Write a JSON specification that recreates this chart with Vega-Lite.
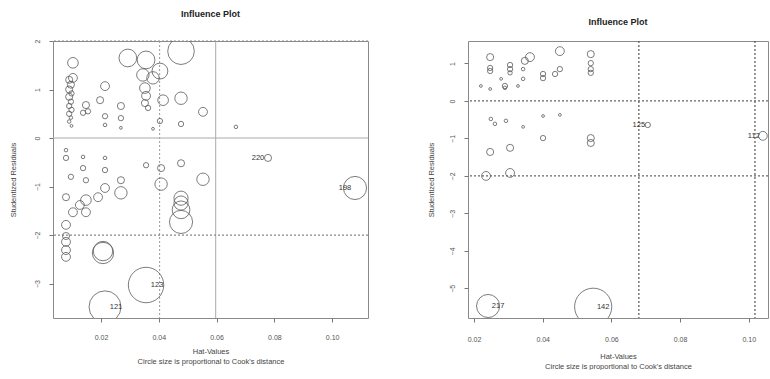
{
  "$schema": "https://vega.github.io/schema/vega-lite/v6.json",
  "padding": {"left": 8, "top": 9, "right": 0, "bottom": 0},
  "background": "white",
  "spacing": 56,
  "config": {
    "font": "Liberation Sans",
    "view": {"stroke": "#8a8a8a", "strokeWidth": 1},
    "title": {"fontSize": 9, "fontWeight": "bold", "color": "#222", "font": "Liberation Sans"},
    "axis": {
      "grid": false, "domain": false, "tickColor": "#777", "tickSize": 4,
      "labelFontSize": 7, "labelColor": "#555", "titleFontSize": 7.5, "titleColor": "#444",
      "titleFontWeight": "normal"
    }
  },
  "datasets": {
    "leftPts": [
      {"hat": 0.0477, "resid": 1.79, "cook": 0.045},
      {"hat": 0.0293, "resid": 1.65, "cook": 0.020},
      {"hat": 0.0356, "resid": 1.61, "cook": 0.020},
      {"hat": 0.0404, "resid": 1.38, "cook": 0.016},
      {"hat": 0.0345, "resid": 1.30, "cook": 0.0098},
      {"hat": 0.0380, "resid": 1.24, "cook": 0.0098},
      {"hat": 0.0352, "resid": 1.03, "cook": 0.0072},
      {"hat": 0.0356, "resid": 0.87, "cook": 0.005},
      {"hat": 0.0352, "resid": 0.72, "cook": 0.0032},
      {"hat": 0.0363, "resid": 0.62, "cook": 0.0018},
      {"hat": 0.0415, "resid": 0.78, "cook": 0.0072},
      {"hat": 0.0477, "resid": 0.82, "cook": 0.0098},
      {"hat": 0.0553, "resid": 0.54, "cook": 0.005},
      {"hat": 0.0477, "resid": 0.29, "cook": 0.0018},
      {"hat": 0.0404, "resid": 0.35, "cook": 0.0018},
      {"hat": 0.0380, "resid": 0.19, "cook": 0.0005},
      {"hat": 0.0103, "resid": 1.55, "cook": 0.0072},
      {"hat": 0.0103, "resid": 1.24, "cook": 0.005},
      {"hat": 0.0090, "resid": 1.20, "cook": 0.0032},
      {"hat": 0.0096, "resid": 1.10, "cook": 0.0032},
      {"hat": 0.0090, "resid": 1.00, "cook": 0.0032},
      {"hat": 0.0098, "resid": 0.92, "cook": 0.0018},
      {"hat": 0.0090, "resid": 0.85, "cook": 0.0032},
      {"hat": 0.0096, "resid": 0.75, "cook": 0.0018},
      {"hat": 0.0090, "resid": 0.66, "cook": 0.0018},
      {"hat": 0.0098, "resid": 0.58, "cook": 0.0018},
      {"hat": 0.0090, "resid": 0.50, "cook": 0.0018},
      {"hat": 0.0096, "resid": 0.42, "cook": 0.0008},
      {"hat": 0.0090, "resid": 0.34, "cook": 0.0008},
      {"hat": 0.0098, "resid": 0.25, "cook": 0.0005},
      {"hat": 0.0214, "resid": 1.07, "cook": 0.005},
      {"hat": 0.0197, "resid": 0.78, "cook": 0.0032},
      {"hat": 0.0148, "resid": 0.68, "cook": 0.0032},
      {"hat": 0.0138, "resid": 0.52, "cook": 0.0018},
      {"hat": 0.0269, "resid": 0.66, "cook": 0.0032},
      {"hat": 0.0269, "resid": 0.41, "cook": 0.0018},
      {"hat": 0.0214, "resid": 0.45, "cook": 0.0018},
      {"hat": 0.0214, "resid": 0.27, "cook": 0.0008},
      {"hat": 0.0269, "resid": 0.21, "cook": 0.0005},
      {"hat": 0.0155, "resid": 0.55, "cook": 0.0018},
      {"hat": 0.0667, "resid": 0.23, "cook": 0.0008},
      {"hat": 0.0079, "resid": -0.25, "cook": 0.0008},
      {"hat": 0.0079, "resid": -0.41, "cook": 0.0018},
      {"hat": 0.0138, "resid": -0.39, "cook": 0.0008},
      {"hat": 0.0214, "resid": -0.41, "cook": 0.0008},
      {"hat": 0.0214, "resid": -0.66, "cook": 0.0018},
      {"hat": 0.0138, "resid": -0.62, "cook": 0.0018},
      {"hat": 0.0096, "resid": -0.80, "cook": 0.0018},
      {"hat": 0.0148, "resid": -0.87, "cook": 0.0018},
      {"hat": 0.0269, "resid": -0.87, "cook": 0.0032},
      {"hat": 0.0269, "resid": -1.13, "cook": 0.0098},
      {"hat": 0.0214, "resid": -1.03, "cook": 0.005},
      {"hat": 0.0190, "resid": -1.22, "cook": 0.005},
      {"hat": 0.0148, "resid": -1.28, "cook": 0.0072},
      {"hat": 0.0127, "resid": -1.38, "cook": 0.005},
      {"hat": 0.0148, "resid": -1.53, "cook": 0.005},
      {"hat": 0.0103, "resid": -1.53, "cook": 0.005},
      {"hat": 0.0079, "resid": -1.22, "cook": 0.0032},
      {"hat": 0.0079, "resid": -1.79, "cook": 0.005},
      {"hat": 0.0356, "resid": -0.56, "cook": 0.0018},
      {"hat": 0.0408, "resid": -0.62, "cook": 0.0032},
      {"hat": 0.0477, "resid": -0.52, "cook": 0.0032},
      {"hat": 0.0408, "resid": -0.95, "cook": 0.0098},
      {"hat": 0.0553, "resid": -0.85, "cook": 0.0098},
      {"hat": 0.0477, "resid": -1.24, "cook": 0.0128},
      {"hat": 0.0477, "resid": -1.34, "cook": 0.0128},
      {"hat": 0.0477, "resid": -1.48, "cook": 0.020},
      {"hat": 0.0477, "resid": -1.73, "cook": 0.034},
      {"hat": 0.0778, "resid": -0.41, "cook": 0.0032, "id": "220"},
      {"hat": 0.1079, "resid": -1.03, "cook": 0.034, "id": "198"},
      {"hat": 0.0079, "resid": -2.02, "cook": 0.0032},
      {"hat": 0.0079, "resid": -2.14, "cook": 0.005},
      {"hat": 0.0079, "resid": -2.31, "cook": 0.005},
      {"hat": 0.0079, "resid": -2.45, "cook": 0.005},
      {"hat": 0.0207, "resid": -2.37, "cook": 0.029},
      {"hat": 0.0207, "resid": -2.33, "cook": 0.024},
      {"hat": 0.0356, "resid": -3.03, "cook": 0.080, "id": "123"},
      {"hat": 0.0214, "resid": -3.48, "cook": 0.065, "id": "121"}
    ],
    "rightPts": [
      {"hat": 0.0247, "resid": 1.17, "cook": 0.0032},
      {"hat": 0.0247, "resid": 0.88, "cook": 0.0018},
      {"hat": 0.0247, "resid": 0.80, "cook": 0.0018},
      {"hat": 0.0305, "resid": 0.96, "cook": 0.0018},
      {"hat": 0.0305, "resid": 0.85, "cook": 0.0018},
      {"hat": 0.0305, "resid": 0.75, "cook": 0.0012},
      {"hat": 0.0363, "resid": 1.17, "cook": 0.005},
      {"hat": 0.0348, "resid": 1.07, "cook": 0.0032},
      {"hat": 0.0343, "resid": 0.85, "cook": 0.0008},
      {"hat": 0.0343, "resid": 0.59, "cook": 0.0008},
      {"hat": 0.0450, "resid": 1.33, "cook": 0.005},
      {"hat": 0.0450, "resid": 0.85, "cook": 0.0018},
      {"hat": 0.0436, "resid": 0.72, "cook": 0.0018},
      {"hat": 0.0401, "resid": 0.72, "cook": 0.0018},
      {"hat": 0.0401, "resid": 0.61, "cook": 0.0018},
      {"hat": 0.0540, "resid": 1.25, "cook": 0.0032},
      {"hat": 0.0540, "resid": 1.01, "cook": 0.0018},
      {"hat": 0.0540, "resid": 0.85, "cook": 0.0018},
      {"hat": 0.0540, "resid": 0.75, "cook": 0.0018},
      {"hat": 0.0290, "resid": 0.40, "cook": 0.0018},
      {"hat": 0.0290, "resid": 0.35, "cook": 0.0008},
      {"hat": 0.0220, "resid": 0.40, "cook": 0.0005},
      {"hat": 0.0247, "resid": 0.32, "cook": 0.0005},
      {"hat": 0.0328, "resid": 0.40, "cook": 0.0005},
      {"hat": 0.0279, "resid": 0.59, "cook": 0.0005},
      {"hat": 0.0249, "resid": -0.48, "cook": 0.0008},
      {"hat": 0.0261, "resid": -0.61, "cook": 0.0008},
      {"hat": 0.0293, "resid": -0.53, "cook": 0.0008},
      {"hat": 0.0343, "resid": -0.69, "cook": 0.0005},
      {"hat": 0.0401, "resid": -0.40, "cook": 0.0005},
      {"hat": 0.0450, "resid": -0.37, "cook": 0.0005},
      {"hat": 0.0401, "resid": -0.99, "cook": 0.0018},
      {"hat": 0.0540, "resid": -0.99, "cook": 0.0032},
      {"hat": 0.0540, "resid": -1.12, "cook": 0.0032},
      {"hat": 0.0247, "resid": -1.36, "cook": 0.0032},
      {"hat": 0.0305, "resid": -1.25, "cook": 0.0032},
      {"hat": 0.0235, "resid": -2.00, "cook": 0.005},
      {"hat": 0.0305, "resid": -1.92, "cook": 0.005},
      {"hat": 0.0706, "resid": -0.64, "cook": 0.0018, "id": "125"},
      {"hat": 0.1041, "resid": -0.93, "cook": 0.005, "id": "112"},
      {"hat": 0.0241, "resid": -5.47, "cook": 0.034, "id": "217"},
      {"hat": 0.0547, "resid": -5.49, "cook": 0.088, "id": "142"}
    ]
  },
  "hconcat": [
    {
      "width": 315,
      "height": 277,
      "title": {"text": "Influence Plot", "offset": 20},
      "layer": [
        {
          "data": {"values": [{"hat": 0.0403}]},
          "mark": {"type": "rule", "color": "#9a9a9a", "strokeDash": [2, 2], "strokeWidth": 1},
          "encoding": {"x": {"field": "hat", "type": "quantitative"}}
        },
        {
          "data": {"values": [{"hat": 0.0597}]},
          "mark": {"type": "rule", "color": "#aaaaaa", "strokeWidth": 1},
          "encoding": {"x": {"field": "hat", "type": "quantitative"}}
        },
        {
          "data": {"values": [{"resid": 0}]},
          "mark": {"type": "rule", "color": "#aaaaaa", "strokeWidth": 1},
          "encoding": {"y": {"field": "resid", "type": "quantitative"}}
        },
        {
          "data": {"values": [{"resid": -2}, {"resid": 2}]},
          "mark": {"type": "rule", "color": "#888888", "strokeDash": [2, 2], "strokeWidth": 1.2},
          "encoding": {"y": {"field": "resid", "type": "quantitative"}}
        },
        {
          "data": {"name": "leftPts"},
          "mark": {"type": "point", "shape": "circle", "filled": false, "stroke": "#5a5a5a", "strokeWidth": 0.8, "clip": true, "opacity": 1},
          "encoding": {
            "x": {"field": "hat", "type": "quantitative", "scale": {"domain": [0.0034, 0.1124], "nice": false, "zero": false},
                  "axis": {"values": [0.02, 0.04, 0.06, 0.08, 0.1], "format": ".2f", "labelPadding": 11, "titlePadding": 7, "titleLineHeight": 10,
                           "title": ["Hat-Values", "Circle size is proportional to Cook's distance"]}},
            "y": {"field": "resid", "type": "quantitative", "scale": {"domain": [-3.71, 2.0], "nice": false, "zero": false},
                  "axis": {"values": [-3, -2, -1, 0, 1, 2], "labelAngle": -90, "labelAlign": "center", "labelBaseline": "bottom", "labelPadding": 9, "titlePadding": 16,
                           "title": "Studentized Residuals"}},
            "size": {"field": "cook", "type": "quantitative", "scale": {"domain": [0, 0.1], "range": [0, 1571], "zero": true}, "legend": null}
          }
        },
        {
          "data": {"name": "leftPts"},
          "transform": [{"filter": "datum.id == '198' || datum.id == '220'"}],
          "mark": {"type": "text", "fontSize": 7.5, "color": "#333", "dx": -10},
          "encoding": {
            "x": {"field": "hat", "type": "quantitative"},
            "y": {"field": "resid", "type": "quantitative"},
            "text": {"field": "id"}
          }
        },
        {
          "data": {"name": "leftPts"},
          "transform": [{"filter": "datum.id == '123' || datum.id == '121'"}],
          "mark": {"type": "text", "fontSize": 7.5, "color": "#333", "dx": 11},
          "encoding": {
            "x": {"field": "hat", "type": "quantitative"},
            "y": {"field": "resid", "type": "quantitative"},
            "text": {"field": "id"}
          }
        }
      ]
    },
    {
      "width": 300,
      "height": 277,
      "title": {"text": "Influence Plot", "offset": 13},
      "layer": [
        {
          "data": {"values": [{"hat": 0.068}, {"hat": 0.1018}]},
          "mark": {"type": "rule", "color": "#555555", "strokeDash": [2, 2], "strokeWidth": 1.2},
          "encoding": {"x": {"field": "hat", "type": "quantitative"}}
        },
        {
          "data": {"values": [{"resid": 0}, {"resid": -2}]},
          "mark": {"type": "rule", "color": "#666666", "strokeDash": [2, 2], "strokeWidth": 1.2},
          "encoding": {"y": {"field": "resid", "type": "quantitative"}}
        },
        {
          "data": {"name": "rightPts"},
          "mark": {"type": "point", "shape": "circle", "filled": false, "stroke": "#5a5a5a", "strokeWidth": 0.8, "clip": true, "opacity": 1},
          "encoding": {
            "x": {"field": "hat", "type": "quantitative", "scale": {"domain": [0.01825, 0.1056], "nice": false, "zero": false},
                  "axis": {"values": [0.02, 0.04, 0.06, 0.08, 0.1], "format": ".2f", "labelPadding": 13, "titlePadding": 10, "titleLineHeight": 10,
                           "title": ["Hat-Values", "Circle size is proportional to Cook's distance"]}},
            "y": {"field": "resid", "type": "quantitative", "scale": {"domain": [-5.79, 1.6], "nice": false, "zero": false},
                  "axis": {"values": [-5, -4, -3, -2, -1, 0, 1], "labelAngle": -90, "labelAlign": "center", "labelBaseline": "bottom", "labelPadding": 9, "titlePadding": 13,
                           "title": "Studentized Residuals"}},
            "size": {"field": "cook", "type": "quantitative", "scale": {"domain": [0, 0.1], "range": [0, 1571], "zero": true}, "legend": null}
          }
        },
        {
          "data": {"name": "rightPts"},
          "transform": [{"filter": "datum.id == '125' || datum.id == '112'"}],
          "mark": {"type": "text", "fontSize": 7.5, "color": "#333", "dx": -9},
          "encoding": {
            "x": {"field": "hat", "type": "quantitative"},
            "y": {"field": "resid", "type": "quantitative"},
            "text": {"field": "id"}
          }
        },
        {
          "data": {"name": "rightPts"},
          "transform": [{"filter": "datum.id == '217' || datum.id == '142'"}],
          "mark": {"type": "text", "fontSize": 7.5, "color": "#333", "dx": 10},
          "encoding": {
            "x": {"field": "hat", "type": "quantitative"},
            "y": {"field": "resid", "type": "quantitative"},
            "text": {"field": "id"}
          }
        }
      ]
    }
  ]
}
